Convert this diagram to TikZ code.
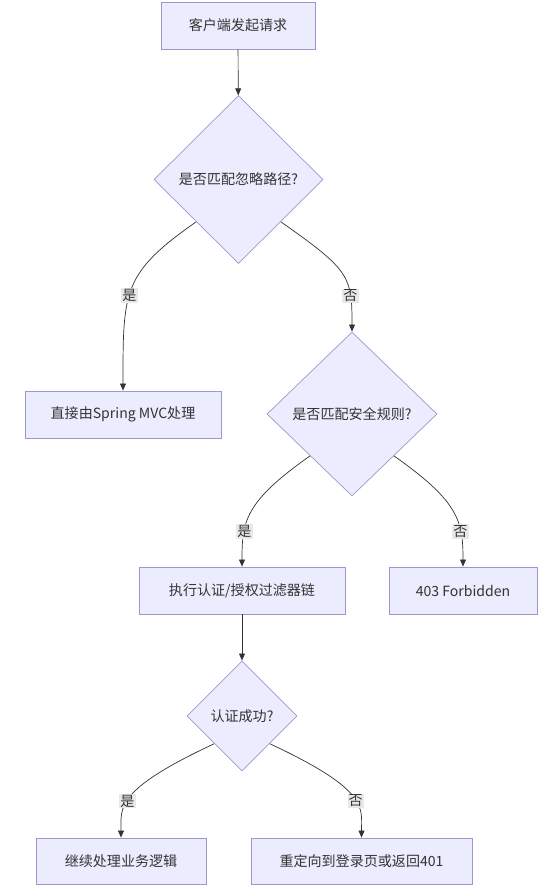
\documentclass[tikz,border=0pt]{standalone}
\usepackage{fontspec}
\setmainfont{Noto Sans CJK SC}
\usepackage{xcolor}
\usepackage{tikz}
\usetikzlibrary{shapes.geometric,arrows.meta,positioning,calc}

\definecolor{ndfill}{HTML}{ECECFF}
\definecolor{ndline}{HTML}{A096CC}
\definecolor{txt}{HTML}{333333}

\begin{document}
\begin{tikzpicture}[
            x=0.03cm, y=0.03cm,
            every node/.style={font=\fontsize{12}{14}\selectfont, text=txt},
            nd/.style={draw=ndline, fill=ndfill, line width=0.6pt, minimum height=1.41cm, inner sep=0pt},
            dec/.style={diamond, draw=ndline, fill=ndfill, line width=0.6pt, inner sep=0pt},
            lbl/.style={fill=gray!18, inner sep=1pt},
            edge/.style={-{Triangle[length=6pt,width=5pt]}, draw=txt, line width=0.6pt},
        ]
            \useasboundingbox (0,0) rectangle (557,-895);
            \node[nd, minimum width=4.62cm] (req) at (238,-25.5) {客户端发起请求};
            \node[dec, minimum width=5.07cm, minimum height=5.04cm] (ign) at (238.5,-179.5) {是否匹配忽略路径?};
            \node[nd, minimum width=5.88cm] (mvc) at (123,-414.5) {直接由Spring MVC处理};
            \node[dec, minimum width=5.1cm, minimum height=4.92cm] (sec) at (352,-414) {是否匹配安全规则?};
            \node[nd, minimum width=6.18cm] (chain) at (242,-590.5) {执行认证/授权过滤器链};
            \node[nd, minimum width=4.44cm] (forb) at (463,-590.5) {403 Forbidden};
            \node[dec, minimum width=3.3cm, minimum height=3.3cm] (auth) at (242,-716) {认证成功?};
            \node[nd, minimum width=5.1cm, minimum height=1.38cm] (biz) at (121,-861) {继续处理业务逻辑};
            \node[nd, minimum width=6.63cm, minimum height=1.38cm] (redir) at (361.5,-861) {重定向到登录页或返回401};
            % straight links
            \draw[edge] (req) -- (ign);
            \draw[edge] (chain) -- (auth);
            % yes / no branches
            \draw[edge] (ign.225) .. controls +(215:90) and +(90:100) .. node[lbl, pos=0.55] {是} (mvc.north);
            \draw[edge] (ign.315) .. controls +(-35:85) and +(90:55) .. node[lbl, pos=0.73] {否} (sec.north);
            \draw[edge] (sec.225) .. controls +(215:80) and +(90:45) .. node[lbl, pos=0.7] {是} (chain.north);
            \draw[edge] (sec.315) .. controls +(-35:80) and +(90:45) .. node[lbl, pos=0.7] {否} (forb.north);
            \draw[edge] (auth.225) .. controls +(205:110) and +(90:30) .. node[lbl, pos=0.55] {是} (biz.north);
            \draw[edge] (auth.315) .. controls +(-25:110) and +(90:30) .. node[lbl, pos=0.55] {否} (redir.north);
        \end{tikzpicture}
\end{document}
